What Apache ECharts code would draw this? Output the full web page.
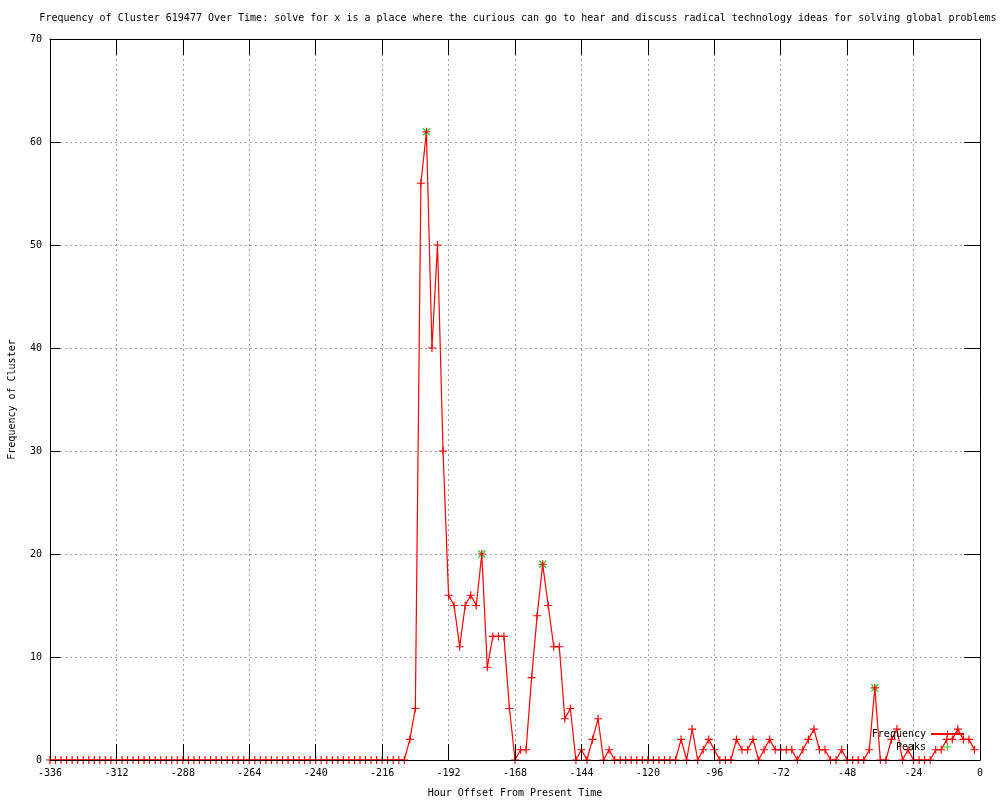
<!DOCTYPE html>
<html>
<head>
<meta charset="utf-8">
<script src="https://cdn.jsdelivr.net/npm/echarts@6/dist/echarts.min.js"></script>
<style>html,body{margin:0;padding:0;background:#fff}#c{width:1000px;height:800px}</style>
</head>
<body>
<div id="c"></div>
<script>
const titleText = 'Frequency of Cluster 619477 Over Time: solve for x is a place where the curious can go to hear and discuss radical technology ideas for solving global problems';
const xTitle = 'Hour Offset From Present Time';
const yTitle = 'Frequency of Cluster';

const hours = [
 -336,-334,-332,-330,-328,-326,-324,-322,-320,-318,-316,-314,-312,-310,-308,-306,-304,-302,-300,-298,
 -296,-294,-292,-290,-288,-286,-284,-282,-280,-278,-276,-274,-272,-270,-268,-266,-264,-262,-260,-258,
 -256,-254,-252,-250,-248,-246,-244,-242,-240,-238,-236,-234,-232,-230,-228,-226,-224,-222,-220,-218,
 -216,-214,-212,-210,-208,-206,-204,-202,-200,-198,-196,-194,-192,-190,-188,-186,-184,-182,-180,-178,
 -176,-174,-172,-170,-168,-166,-164,-162,-160,-158,-156,-154,-152,-150,-148,-146,-144,-142,-140,-138,
 -136,-134,-132,-130,-128,-126,-124,-122,-120,-118,-116,-114,-112,-110,-108,-106,-104,-102,-100,-98,
 -96,-94,-92,-90,-88,-86,-84,-82,-80,-78,-76,-74,-72,-70,-68,-66,-64,-62,-60,-58,
 -56,-54,-52,-50,-48,-46,-44,-42,-40,-38,-36,-34,-32,-30,-28,-26,-24,-22,-20,-18,
 -16,-14,-12,-10,-8,-6,-4,-2
];
const frequency = [
 0,0,0,0,0,0,0,0,0,0,0,0,0,0,0,0,0,0,0,0,
 0,0,0,0,0,0,0,0,0,0,0,0,0,0,0,0,0,0,0,0,
 0,0,0,0,0,0,0,0,0,0,0,0,0,0,0,0,0,0,0,0,
 0,0,0,0,0,2,5,56,61,40,50,30,16,15,11,15,16,15,20,9,
 12,12,12,5,0,1,1,8,14,19,15,11,11,4,5,0,1,0,2,4,
 0,1,0,0,0,0,0,0,0,0,0,0,0,0,2,0,3,0,1,2,
 1,0,0,0,2,1,1,2,0,1,2,1,1,1,1,0,1,2,3,1,
 1,0,0,1,0,0,0,0,1,7,0,0,2,3,0,1,0,0,0,0,
 1,1,2,2,3,2,2,1
];
const peakHours = [-200, -180, -158, -38];
const peakValues = [61, 20, 19, 7];

const xTicks = {min: -336, max: 0, interval: 24};
const yTicks = {min: 0, max: 70, interval: 10};

const FONT = 'DejaVu Sans Mono';
const PLUS = 'path://M3,0h1v3h3v1h-3v3h-1v-3h-3v-1h3z';

const chart = echarts.init(document.getElementById('c'), null, {renderer: 'canvas'});
const freqData = hours.map((h, i) => [h, frequency[i]]);
const peakData = peakHours.map((h, i) => [h, peakValues[i]]);

const grid = {left: 50, right: 20, top: 39, bottom: 40, outerBoundsMode: 'none', containLabel: false};
const dashed = {show: true, lineStyle: {color: '#a0a0a0', type: [2, 3], width: 1}};

chart.setOption({
  animation: false,
  backgroundColor: '#ffffff',
  title: {
    text: titleText, left: 513, top: 8, textAlign: 'center',
    textStyle: {fontFamily: FONT, fontSize: 10, fontWeight: 'normal', color: '#000'}
  },
  grid: grid,
  legend: {
    orient: 'vertical', right: 30, top: 724, align: 'right',
    itemWidth: 33, itemHeight: 8, itemGap: 3, symbolKeepAspect: true,
    textStyle: {fontFamily: FONT, fontSize: 10, color: '#000'},
    data: ['Frequency', 'Peaks']
  },
  xAxis: [
    {
      type: 'value', position: 'bottom', min: xTicks.min, max: xTicks.max, interval: xTicks.interval, z: 3,
      name: xTitle, nameLocation: 'middle', nameGap: 28,
      nameTextStyle: {fontFamily: FONT, fontSize: 10, color: '#000'},
      axisLine: {show: true, onZero: false, lineStyle: {color: '#000', width: 1}},
      axisTick: {show: true, inside: true, length: 16, lineStyle: {color: '#000'}},
      axisLabel: {fontFamily: FONT, fontSize: 10, color: '#000', margin: 8},
      splitLine: {show: false}
    },
    {
      type: 'value', position: 'top', min: xTicks.min, max: xTicks.max, interval: xTicks.interval, z: 0,
      axisLine: {show: true, onZero: false, lineStyle: {color: '#000', width: 1}},
      axisTick: {show: true, inside: true, length: 16, lineStyle: {color: '#000'}},
      axisLabel: {show: false},
      splitLine: dashed
    }
  ],
  yAxis: [
    {
      type: 'value', position: 'left', min: yTicks.min, max: yTicks.max, interval: yTicks.interval, z: 0,
      name: yTitle, nameLocation: 'middle', nameGap: 33,
      nameTextStyle: {fontFamily: FONT, fontSize: 10, color: '#000'},
      axisLine: {show: true, onZero: false, lineStyle: {color: '#000', width: 1}},
      axisTick: {show: true, inside: true, length: 10, lineStyle: {color: '#000'}},
      axisLabel: {fontFamily: FONT, fontSize: 10, color: '#000', margin: 8},
      splitLine: dashed
    },
    {
      type: 'value', position: 'right', min: yTicks.min, max: yTicks.max, interval: yTicks.interval, z: 0,
      axisLine: {show: true, onZero: false, lineStyle: {color: '#000', width: 1}},
      axisTick: {show: true, inside: true, length: 16, lineStyle: {color: '#000'}},
      axisLabel: {show: false},
      splitLine: {show: false}
    }
  ],
  series: [
    {
      name: 'Frequency', type: 'line', xAxisIndex: 0, yAxisIndex: 0, data: freqData,
      clip: false, symbol: PLUS, symbolSize: 8, showSymbol: true, showAllSymbol: true,
      lineStyle: {color: '#ff0000', width: 1.2},
      itemStyle: {color: '#ff0000'},
      z: 2
    },
    {
      name: 'Peaks', type: 'scatter', xAxisIndex: 0, yAxisIndex: 0, data: peakData,
      clip: false, symbol: PLUS, symbolRotate: 45, symbolSize: 10, symbolKeepAspect: true,
      itemStyle: {color: '#00c000'},
      z: 1
    }
  ]
});
</script>
</body>
</html>
